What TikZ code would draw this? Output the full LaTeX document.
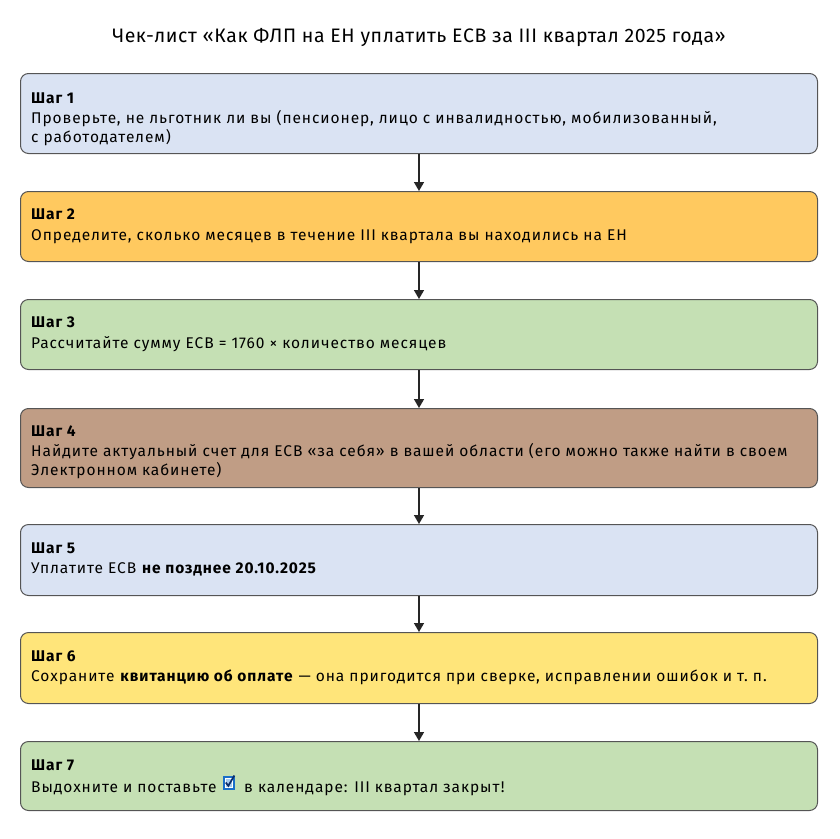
\documentclass[tikz,border=0pt]{standalone}
\usepackage{fontspec}
\setmainfont{Fira Sans}
\newfontfamily\bodyfont[LetterSpace=6.0]{Fira Sans}
\newfontfamily\titlefont[LetterSpace=3.0]{Fira Sans}
\usetikzlibrary{arrows.meta}
\definecolor{cblue}{HTML}{DAE3F3}
\definecolor{corange}{HTML}{FFC95F}
\definecolor{cgreen}{HTML}{C5E0B4}
\definecolor{cbrown}{HTML}{C09D85}
\definecolor{cyellow}{HTML}{FFE57A}
\definecolor{cborder}{HTML}{555555}
\definecolor{cchk}{HTML}{1A6FC9}
\definecolor{cchkin}{HTML}{A9CBEF}
\definecolor{cchkmark}{HTML}{0D2E6B}
\newcommand{\chkbox}{\tikz[baseline=-2pt,x=1pt,y=1pt]{\fill[cchk](0,0) rectangle (12.5,14);\fill[white](2,2) rectangle (10.5,12);\fill[cchkin](3,3) rectangle (9.5,11);\draw[cchkmark,line width=1.7pt] (3.2,7.5) -- (5.8,4.2) -- (11.8,14.5);}}
\begin{document}
\begin{tikzpicture}[x=1pt,y=-1pt,
  stepbox/.style={draw=cborder,line width=1pt,rounded corners=8pt,minimum width=797pt,anchor=north west,inner sep=0pt},
  hdr/.style={anchor=base west,inner sep=0pt,font=\bodyfont\fontsize{15.5}{19}\selectfont\bfseries},
  txt/.style={anchor=base west,inner sep=0pt,font=\bodyfont\fontsize{15.5}{19}\selectfont},
  conn/.style={line width=1.5pt,draw=black!85,-{Triangle[width=10pt,length=9pt]}}]
\useasboundingbox (0,0) rectangle (840,838);
\node[font=\titlefont\fontsize{19.5}{23}\selectfont] (title) at (419,38) {Чек-лист «Как ФЛП на ЕН уплатить ЕСВ за III квартал 2025 года»};

\node[stepbox,fill=cblue,minimum height=80pt] (b1) at (20,73) {};
\node[stepbox,fill=corange,minimum height=70pt] (b2) at (20,191) {};
\node[stepbox,fill=cgreen,minimum height=70pt] (b3) at (20,299) {};
\node[stepbox,fill=cbrown,minimum height=79pt] (b4) at (20,408) {};
\node[stepbox,fill=cblue,minimum height=71pt] (b5) at (20,524) {};
\node[stepbox,fill=cyellow,minimum height=71pt] (b6) at (20,632) {};
\node[stepbox,fill=cgreen,minimum height=69pt] (b7) at (20,741) {};

\node[hdr] (h1) at (31,103) {Шаг 1};
\node[txt] (t1a) at (31,123) {Проверьте, не льготник ли вы (пенсионер, лицо с инвалидностью, мобилизованный,};
\node[txt] (t1b) at (31,142) {с работодателем)};

\node[hdr] (h2) at (31,219) {Шаг 2};
\node[txt] (t2a) at (31,240) {Определите, сколько месяцев в течение III квартала вы находились на ЕН};

\node[hdr] (h3) at (31,327) {Шаг 3};
\node[txt] (t3a) at (31,348) {Рассчитайте сумму ЕСВ = 1760 × количество месяцев};

\node[hdr] (h4) at (31,436) {Шаг 4};
\node[txt] (t4a) at (31,456) {Найдите актуальный счет для ЕСВ «за себя» в вашей области (его можно также найти в своем};
\node[txt] (t4b) at (31,475) {Электронном кабинете)};

\node[hdr] (h5) at (31,553) {Шаг 5};
\node[txt] (t5a) at (31,573) {Уплатите ЕСВ \textbf{не позднее 20.10.2025}};

\node[hdr] (h6) at (31,661) {Шаг 6};
\node[txt] (t6a) at (31,681) {Сохраните \textbf{квитанцию об оплате} — она пригодится при сверке, исправлении ошибок и т.~п.};

\node[hdr] (h7) at (31,770) {Шаг 7};
\node[txt] (t7a) at (31,792) {Выдохните и поставьте \hspace{1pt}\chkbox\hspace{4pt}\ в календаре: III квартал закрыт!};

\draw[conn] (b1.south) -- (b2.north);
\draw[conn] (b2.south) -- (b3.north);
\draw[conn] (b3.south) -- (b4.north);
\draw[conn] (b4.south) -- (b5.north);
\draw[conn] (b5.south) -- (b6.north);
\draw[conn] (b6.south) -- (b7.north);
\end{tikzpicture}
\end{document}
